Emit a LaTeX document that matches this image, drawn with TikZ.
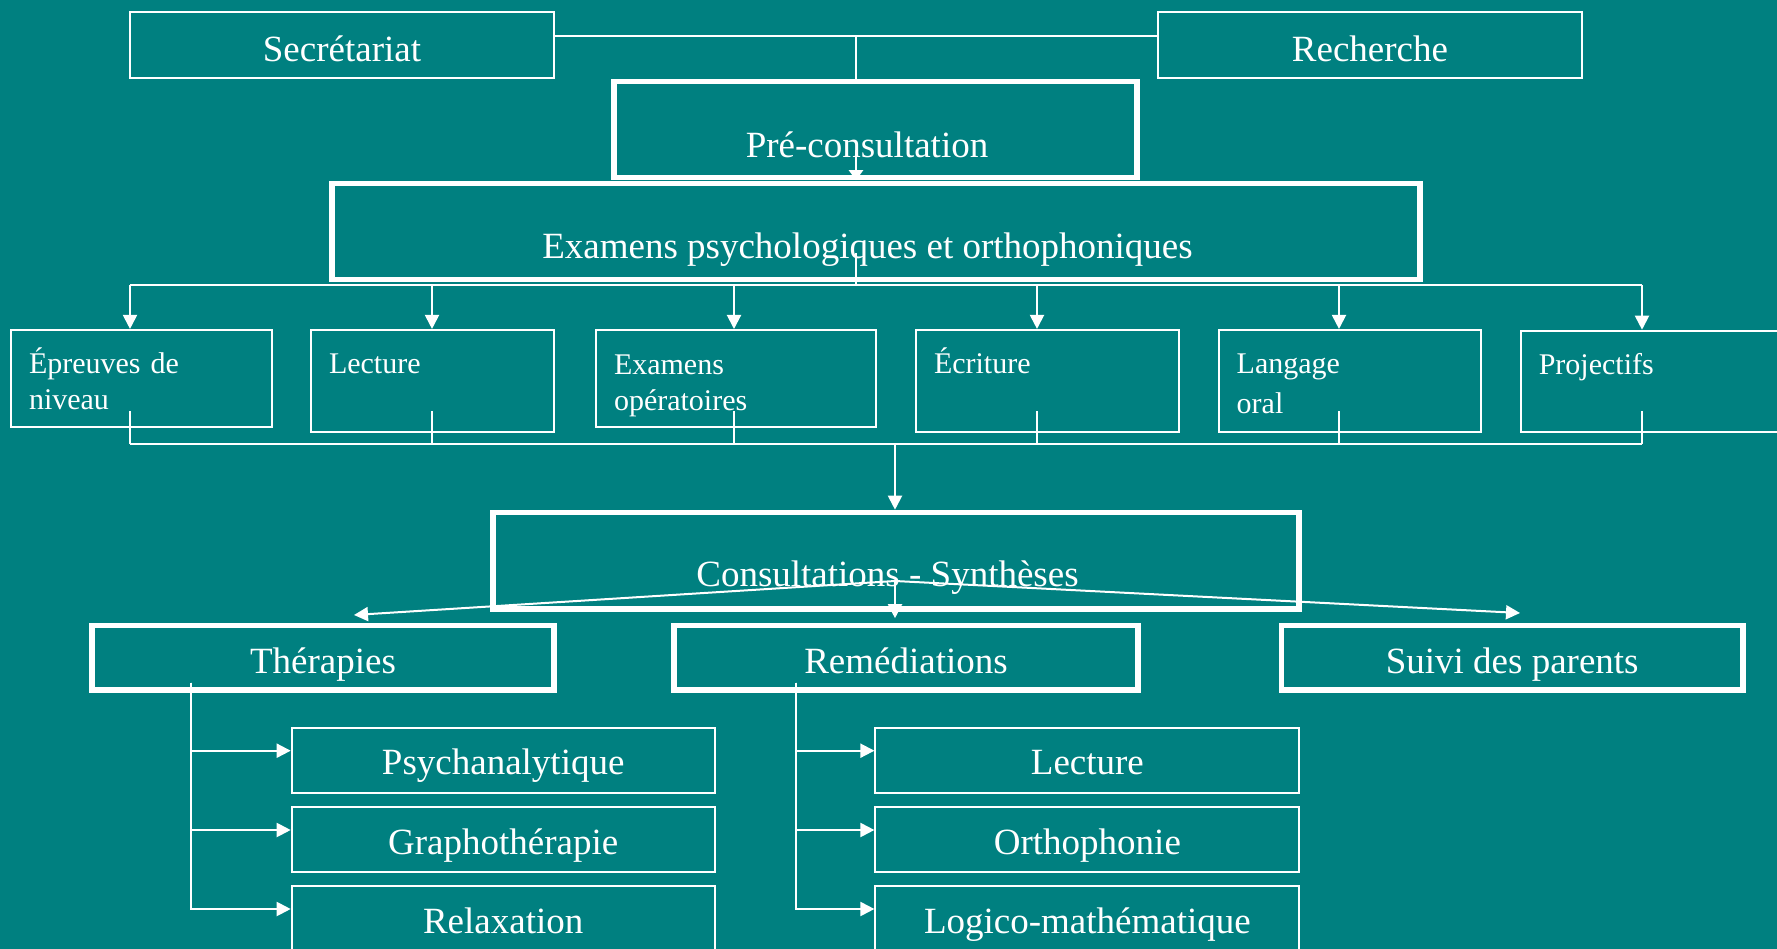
\documentclass[tikz,border=0pt]{standalone}
\usepackage{fontspec}
\setmainfont{Liberation Serif}
\usepackage{tikz}
\usetikzlibrary{arrows.meta,positioning,calc}
\definecolor{bg}{HTML}{008080}
\tikzset{
  box/.style   ={draw=white, rectangle, line width=2pt, text=white, inner sep=2pt,
                 font=\fontsize{37}{44}\selectfont, text depth=0pt},
  bigbox/.style={box, line width=5.5pt},
  exbox/.style ={draw=white, rectangle, line width=2pt, text=white, inner xsep=18pt, inner ysep=0pt,
                 align=left, font=\fontsize{30}{36}\selectfont, text height=44pt},
  ln/.style    ={draw=white, line width=2pt},
  ar/.style    ={ln, -{Triangle[length=14pt,width=14pt]}},
}
\begin{document}
\begin{tikzpicture}[x=1pt,y=-1pt]
\fill[bg] (0,0) rectangle (1777,949);
\useasboundingbox (0,0) rectangle (1777,949);
% top
\node[box, minimum width=424pt, minimum height=66pt, text height=33pt] (secr) at (342,45.5) {Secrétariat};
\node[box, minimum width=424pt, minimum height=66pt, text height=33pt] (rech) at (1370,45.5) {Recherche};
\node[bigbox, minimum width=523pt, minimum height=96pt, text height=56pt] (pre) at (875.5,129.5) {Pré-consultation\kern17pt};
\node[bigbox, minimum width=1088pt, minimum height=96pt, text height=54pt] (exa) at (876,231.5) {Examens psychologiques et orthophoniques\kern17pt};
% examens
\node[exbox, text width=225pt, text depth=53.3pt] (epr) at (141.5,378.6) {Épreuves de\\niveau};
\node[exbox, text width=207pt, text depth=57.7pt] (lec1) at (432.5,380.8) {Lecture};
\node[exbox, text width=244pt, text depth=53pt] (exop) at (736,378.5) {Examens\\opératoires};
\node[exbox, text width=226.6pt, text depth=57.7pt] (ecr) at (1047.3,380.8) {Écriture};
\node[exbox, text width=226pt, text depth=57.7pt] (lang) at (1349.7,380.8) {Langage\\[4pt]oral};
\node[exbox, text width=223.3pt, text depth=57pt] (proj) at (1650.4,381.2) {Projectifs};
% synthese
\node[bigbox, minimum width=806pt, minimum height=96.5pt, text height=52pt] (cons) at (896,560.7) {Consultations - Synthèses\kern17pt};
\node[bigbox, minimum width=462pt, minimum height=64.5pt, text height=31pt] (ther) at (323,657.7) {Thérapies};
\node[bigbox, minimum width=464pt, minimum height=64.5pt, text height=31pt] (reme) at (906,657.7) {Remédiations};
\node[bigbox, minimum width=461.5pt, minimum height=64.5pt, text height=31pt] (suiv) at (1512.2,657.7) {Suivi des parents};
% prises en charge
\node[box, minimum width=423pt, minimum height=65pt, text height=29pt] (psy) at (503.2,760.2) {Psychanalytique};
\node[box, minimum width=423pt, minimum height=65pt, text height=29pt] (gra) at (503.2,839.5) {Graphothérapie};
\node[box, minimum width=423pt, minimum height=65pt, text height=29pt] (rel) at (503.2,918.5) {Relaxation};
\node[box, minimum width=424pt, minimum height=65pt, text height=29pt] (lec2) at (1087.4,760.2) {Lecture};
\node[box, minimum width=424pt, minimum height=65pt, text height=29pt] (ort) at (1087.4,839.5) {Orthophonie};
\node[box, minimum width=424pt, minimum height=65pt, text height=29pt] (log) at (1087.4,918.5) {Logico-mathématique};

% connectors
\coordinate (tj) at (856,36);
\draw[ln] ([yshift=9.5pt]secr.east) -- ([yshift=9.5pt]rech.west);
\draw[ln] (tj) -- (tj |- pre.north);
\coordinate (pj) at (856,150);
\draw[ln, -{Triangle[length=10pt,width=14pt]}] (pj) -- (pj |- pre.south);
\coordinate (ej) at (856,253);
\coordinate (ta) at (130,285);
\coordinate (tb) at (1642,285);
\draw[ln] (ej) -- (ej |- ta);
\draw[ln] (ta) -- (tb);
\coordinate (ba) at (130,444);
\coordinate (bb) at (1642,444);
\draw[ln] (ba) -- (bb);
\foreach \n/\x in {epr/130,lec1/432,exop/734,ecr/1037,lang/1339,proj/1642}{
  \coordinate (t\n) at (\x,285);
  \draw[ar] (t\n) -- (t\n |- \n.north);
  \coordinate (u\n) at (\x,411);
  \draw[ln] (u\n) -- (u\n |- ba);
}
\coordinate (cd) at (895,444);
\draw[ar] (cd) -- (cd |- cons.north);
\coordinate (cj) at (895,581);
\coordinate (cl) at (354,615);
\coordinate (cr) at (1520,613);
\draw[ar] (cj) -- (cl);
\draw[ar] (cj) -- (cr);
\draw[ar, shorten >=4.5pt] (cj) -- (cj |- reme.north);
\coordinate (tv) at (190.6,682.7);
\foreach \n in {psy,gra,rel} \draw[ar] (tv) |- ([yshift=9.5pt]\n.west);
\coordinate (rv) at (795.6,682.7);
\foreach \n in {lec2,ort,log} \draw[ar] (rv) |- ([yshift=9.5pt]\n.west);
\end{tikzpicture}
\end{document}
